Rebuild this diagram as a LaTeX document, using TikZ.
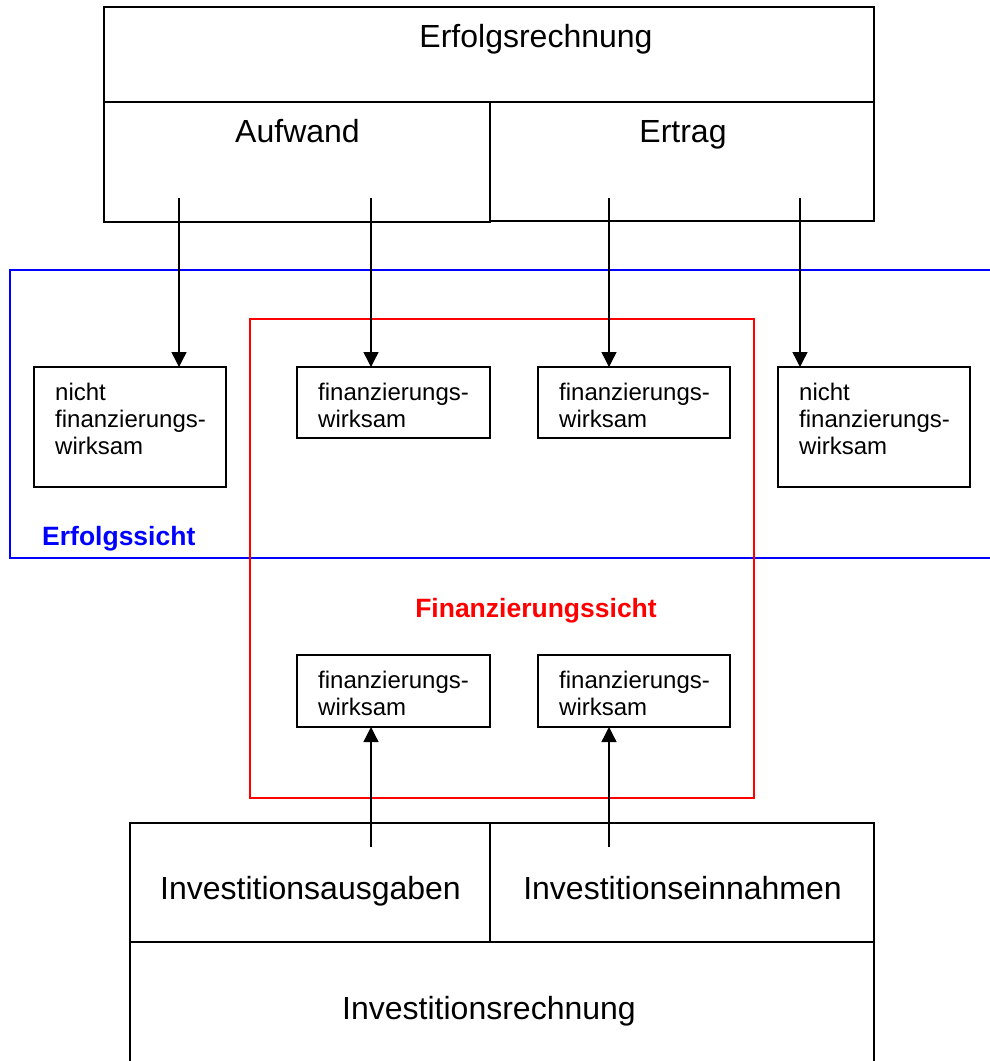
\documentclass[tikz,border=0pt]{standalone}
\usepackage{fontspec}
\setmainfont{Liberation Sans}
\usetikzlibrary{arrows.meta,calc}
\begin{document}
\begin{tikzpicture}[x=1pt,y=-1pt,
  cell/.style={draw=black, line width=1.6pt, inner sep=0pt, outer sep=0pt, rectangle},
  bigtxt/.style={font=\fontsize{32}{38}\selectfont, inner sep=0pt, anchor=base},
  smalltxt/.style={font=\fontsize{24}{27}\selectfont, inner sep=0pt, anchor=base west, align=left},
  flow/.style={line width=1.4pt, -{Triangle[length=15pt,width=15pt]}},
  viewlbl/.style={font=\bfseries\fontsize{26.5}{30}\selectfont, inner sep=0pt, anchor=base},
  frameline/.style={line width=1.6pt}
]
\useasboundingbox (0,0) rectangle (990,1061);
\clip (0,0) rectangle (990,1061);
\fill[white] (0,0) rectangle (990,1061);

% frames
\draw[frameline, draw={rgb,255:red,0;green,0;blue,255}] (1000,270) -- (10,270) -- (10,558) -- (1000,558);
\draw[frameline, draw={rgb,255:red,255;green,0;blue,0}] (250,319) rectangle (754,798);
\node[viewlbl, anchor=base west, text={rgb,255:red,0;green,0;blue,255}] (erfsicht) at (42,545) {Erfolgssicht};
\node[viewlbl, text={rgb,255:red,255;green,0;blue,0}] (finsicht) at (536,617) {Finanzierungssicht};

% top block
\node[cell, minimum width=770pt, minimum height=95pt] (erfolg) at (489,54.5) {};
\node[cell, minimum width=386pt, minimum height=120pt] (aufwand) at (297,162) {};
\node[cell, minimum width=384pt, minimum height=119pt] (ertrag) at (682,161.5) {};
\node[bigtxt] (erfolgT) at (536,47) {Erfolgsrechnung};
\node[bigtxt] (aufwandT) at (297.5,142) {Aufwand};
\node[bigtxt] (ertragT) at (683,142) {Ertrag};

% bottom block
\node[cell, minimum width=360pt, minimum height=119pt] (ausgaben) at (310,882.5) {};
\node[cell, minimum width=384pt, minimum height=119pt] (einnahmen) at (682,882.5) {};
\node[cell, minimum width=744pt, minimum height=160pt] (invest) at (502,1022) {};
\node[bigtxt] (ausgabenT) at (310.5,899) {Investitionsausgaben};
\node[bigtxt] (einnahmenT) at (682.5,899) {Investitionseinnahmen};
\node[bigtxt] (investT) at (489,1019) {Investitionsrechnung};

% small boxes
\node[cell, minimum width=192pt, minimum height=120pt] (b1) at (130,427) {};
\node[cell, minimum width=193pt, minimum height=71pt] (b2) at (393.5,402.5) {};
\node[cell, minimum width=192pt, minimum height=71pt] (b3) at (634,402.5) {};
\node[cell, minimum width=192pt, minimum height=120pt] (b4) at (874,427) {};
\node[cell, minimum width=193pt, minimum height=72pt] (b5) at (393.5,691) {};
\node[cell, minimum width=192pt, minimum height=72pt] (b6) at (634,691) {};

% base anchor = baseline of the last line
\node[smalltxt] (t1) at ($(b1.north west)+(21,87)$) {nicht\\finanzierungs-\\wirksam};
\node[smalltxt] (t2) at ($(b2.north west)+(21,60)$) {finanzierungs-\\wirksam};
\node[smalltxt] (t3) at ($(b3.north west)+(21,60)$) {finanzierungs-\\wirksam};
\node[smalltxt] (t4) at ($(b4.north west)+(21,87)$) {nicht\\finanzierungs-\\wirksam};
\node[smalltxt] (t5) at ($(b5.north west)+(21,60)$) {finanzierungs-\\wirksam};
\node[smalltxt] (t6) at ($(b6.north west)+(21,60)$) {finanzierungs-\\wirksam};

% arrow start points
\coordinate (s1) at (179,198);
\coordinate (s2) at (371,198);
\coordinate (s3) at (609,198);
\coordinate (s4) at (800,198);
\coordinate (s5) at (371,847);
\coordinate (s6) at (609,847);

\draw[flow] (s1) -- (s1 |- b1.north);
\draw[flow] (s2) -- (s2 |- b2.north);
\draw[flow] (s3) -- (s3 |- b3.north);
\draw[flow] (s4) -- (s4 |- b4.north);
\draw[flow] (s5) -- (s5 |- b5.south);
\draw[flow] (s6) -- (s6 |- b6.south);
\end{tikzpicture}
\end{document}
